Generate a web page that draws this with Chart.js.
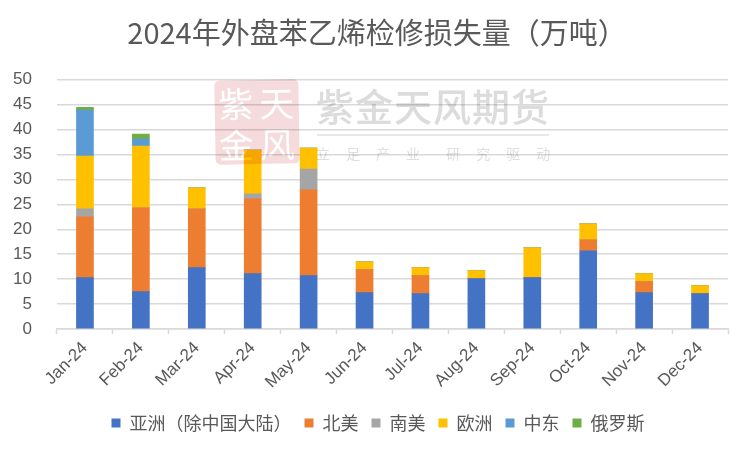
<!DOCTYPE html>
<html><head><meta charset="utf-8">
<script src="https://cdn.jsdelivr.net/npm/chart.js"></script>
<style>
html,body{margin:0;padding:0;background:#fff;width:750px;height:450px;overflow:hidden}
#wrap{position:relative;width:750px;height:450px}
#mark{position:absolute;left:0;top:0;width:750px;height:450px;pointer-events:none;mix-blend-mode:multiply;font-family:"Noto Sans CJK SC"}
#seal{position:absolute;left:215px;top:80px;width:84px;height:84px;background:#f5dbdb;border-radius:5px;transform:rotate(-1deg);color:#fff;font-size:35px;line-height:41px;font-weight:400}
#seal span{position:absolute;width:40px;text-align:center}
#name{position:absolute;left:316px;top:78px;font-size:38px;line-height:54px;color:#dcdcdc;font-weight:500;white-space:nowrap;letter-spacing:1px}
#rule{position:absolute;left:317px;top:134px;width:232px;height:1.5px;background:#e8e8e8}
#motto{position:absolute;left:316px;top:143px;font-size:14px;line-height:20px;color:#dedede;letter-spacing:16px;word-spacing:-9px;white-space:nowrap}
</style></head>
<body><div id="wrap"><canvas id="c" width="750" height="450"></canvas>
<div id="mark"><div id="seal"><span style="left:1px;top:1px">紫</span><span style="left:42px;top:1px">天</span><span style="left:1px;top:42px">金</span><span style="left:42px;top:42px">风</span></div>
<div id="name">紫金天风期货</div><div id="rule"></div><div id="motto">立足产业 研究驱动</div></div></div>
<script>
const titleText = "2024年外盘苯乙烯检修损失量（万吨）";
const categories = ["Jan-24","Feb-24","Mar-24","Apr-24","May-24","Jun-24","Jul-24","Aug-24","Sep-24","Oct-24","Nov-24","Dec-24"];
const asia    = [10.3,7.5,12.3,11.1,10.7,7.3,7.1,10.1,10.3,15.7,7.3,7.1];
const namer   = [12.2,16.8,11.8,15.0,17.2,4.6,3.6,0,0,2.2,2.2,0];
const samer   = [1.6,0,0,1.0,4.2,0,0,0,0,0,0,0];
const europe  = [10.6,12.4,4.2,8.8,4.2,1.6,1.6,1.6,6.0,3.2,1.6,1.6];
const mideast = [9.2,1.4,0,0,0,0,0,0,0,0,0,0];
const russia  = [0.6,1.0,0,0,0,0,0,0,0,0,0,0];
const cjk = '"Noto Sans CJK SC"';
const ds = (label,data,color)=>({label,data,backgroundColor:color,stack:"s",barThickness:17,borderWidth:0});
const nudge = {id:"nudge",afterLayout(chart){
  const t=chart.titleBlock,l=chart.legend;
  t.left+=13;t.right+=13;
  l.left+=14;l.right+=14;
}};
new Chart(document.getElementById("c"),{
  type:"bar",
  plugins:[nudge],
  data:{labels:categories,datasets:[
    ds("亚洲（除中国大陆）",asia,"#4472C4"),
    ds("北美",namer,"#ED7D31"),
    ds("南美",samer,"#A5A5A5"),
    ds("欧洲",europe,"#FFC000"),
    ds("中东",mideast,"#5B9BD5"),
    ds("俄罗斯",russia,"#70AD47")
  ]},
  options:{
    responsive:false,animation:false,devicePixelRatio:1,
    layout:{padding:{left:0,right:22,top:16,bottom:8}},
    plugins:{
      tooltip:{enabled:false},
      title:{display:true,text:titleText,color:"#595959",font:{family:cjk,size:29,weight:"400"},padding:{top:0,bottom:29}},
      legend:{position:"bottom",labels:{color:"#595959",font:{family:cjk,size:18},boxWidth:9,boxHeight:9,padding:13,usePointStyle:false}}
    },
    scales:{
      x:{stacked:true,
        afterFit(s){s.height=72;},
        grid:{drawOnChartArea:false,drawTicks:true,tickLength:5,tickColor:"#D9D9D9",tickWidth:1.5,offset:true},
        border:{color:"#D9D9D9",width:1.5},
        ticks:{color:"#595959",font:{family:"Liberation Sans",size:17},maxRotation:45,minRotation:45,padding:4,autoSkip:false}},
      y:{stacked:true,min:0,max:50,
        afterFit(s){s.width=57;},
        grid:{color:"#D9D9D9",lineWidth:1.5,drawTicks:false},
        border:{display:false},
        ticks:{stepSize:5,color:"#595959",font:{family:"Liberation Sans",size:17},padding:25}}
    }
  }
});
</script></body></html>
